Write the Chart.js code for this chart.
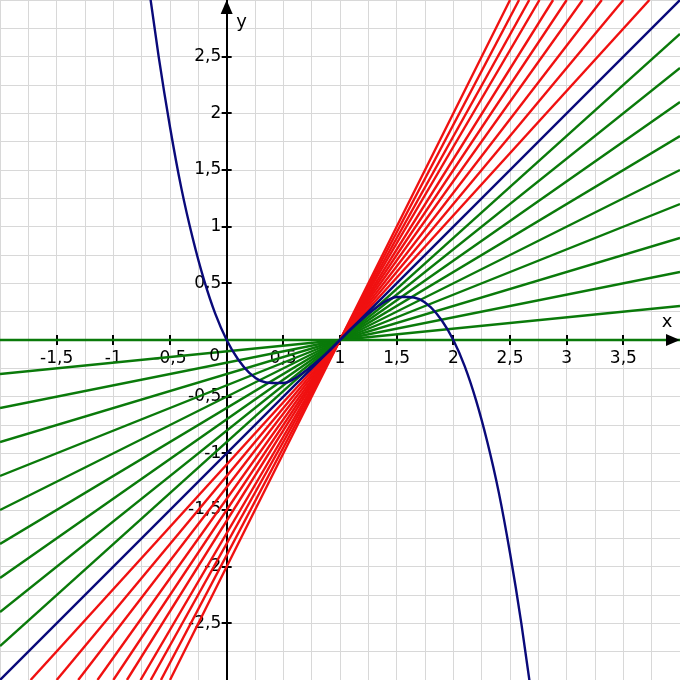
<!DOCTYPE html>
<html>
<head>
<meta charset="utf-8">
<title>Tangente und Sekanten</title>
<script src="https://cdn.jsdelivr.net/npm/chart.js@4/dist/chart.umd.min.js"></script>
<style>
  html, body { margin: 0; padding: 0; background: #ffffff; }
  #wrap { width: 680px; height: 680px; }
</style>
</head>
<body>
<div id="wrap"><canvas id="graphChart"></canvas></div>
<script>
// Axis ranges and tick labels
const xRange = [-2, 4];
const yRange = [-3, 3];
const xTickLabels = [-1.5, -1, -0.5, 0.5, 1, 1.5, 2, 2.5, 3, 3.5];
const yTickLabels = [-2.5, -2, -1.5, -1, -0.5, 0.5, 1, 1.5, 2, 2.5];

// Blue curve
const curveX = [-0.7, -0.6, -0.5, -0.4, -0.3, -0.2, -0.1, 0, 0.1, 0.2, 0.3, 0.4, 0.5, 0.6, 0.7, 0.8, 0.9, 1,
  1.1, 1.2, 1.3, 1.4, 1.5, 1.6, 1.7, 1.8, 1.9, 2, 2.1, 2.2, 2.3, 2.4, 2.5, 2.6, 2.7];
const curveY = [3.21, 2.5, 1.88, 1.34, 0.9, 0.53, 0.23, 0, -0.17, -0.29, -0.36, -0.38, -0.38, -0.34, -0.27, -0.19, -0.1, 0,
  0.1, 0.19, 0.27, 0.34, 0.38, 0.38, 0.36, 0.29, 0.17, 0, -0.23, -0.53, -0.9, -1.34, -1.88, -2.5, -3.21];

// Blue tangent line (end points)
const tangentX = [-2, 4];
const tangentY = [-3, 3];

// Green lines: y at left edge (x = -2) and right edge (x = 4)
const greenLeftY = [0, -0.3, -0.6, -0.9, -1.2, -1.5, -1.8, -2.1, -2.4, -2.7];
const greenRightY = [0, 0.3, 0.6, 0.9, 1.2, 1.5, 1.8, 2.1, 2.4, 2.7];

// Red lines: x at bottom edge (y = -3) and top edge (y = 3)
const redBottomX = [-1.73, -1.5, -1.31, -1.14, -1, -0.88, -0.76, -0.67, -0.58, -0.5];
const redTopX = [3.73, 3.5, 3.31, 3.14, 3, 2.88, 2.76, 2.67, 2.58, 2.5];

const fontFamily = '"DejaVu Sans", sans-serif';

const fmt = (v) => String(v).replace('.', ',');

// Build datasets
const datasets = [];

datasets.push({
  data: curveX.map((x, i) => ({ x: x, y: curveY[i] })),
  borderColor: '#0a0a7a',
  borderWidth: 2.4,
  cubicInterpolationMode: 'monotone',
  order: 0
});

datasets.push({
  data: tangentX.map((x, i) => ({ x: x, y: tangentY[i] })),
  borderColor: '#0a0a7a',
  borderWidth: 2.4,
  order: 1
});

greenLeftY.forEach((y, i) => {
  datasets.push({
    data: [{ x: xRange[0], y: y }, { x: xRange[1], y: greenRightY[i] }],
    borderColor: '#0a7a0a',
    borderWidth: 2.4,
    order: 2
  });
});

redBottomX.forEach((x, i) => {
  datasets.push({
    data: [{ x: x, y: yRange[0] }, { x: redTopX[i], y: yRange[1] }],
    borderColor: '#f01010',
    borderWidth: 2.4,
    order: 3
  });
});

// Centered axes should not push the plot area inwards
const noScalePadding = (scale) => {
  scale.paddingLeft = 0;
  scale.paddingRight = 0;
  scale.paddingTop = 0;
  scale.paddingBottom = 0;
};

// Tick crosses on the axes (under the lines)
const axisTicks = {
  id: 'axisTicks',
  beforeDatasetsDraw(chart) {
    const { ctx, scales: { x, y } } = chart;
    const x0 = x.getPixelForValue(0);
    const y0 = y.getPixelForValue(0);
    ctx.save();
    ctx.strokeStyle = '#000000';
    ctx.lineWidth = 2;
    ctx.beginPath();
    xTickLabels.forEach(v => {
      const px = Math.round(x.getPixelForValue(v));
      ctx.moveTo(px, y0 - 5);
      ctx.lineTo(px, y0 + 5);
    });
    yTickLabels.forEach(v => {
      const py = Math.round(y.getPixelForValue(v));
      ctx.moveTo(x0 - 5, py);
      ctx.lineTo(x0 + 5, py);
    });
    ctx.stroke();
    ctx.restore();
  }
};

// Arrow heads, axis names and origin label
const axisDecor = {
  id: 'axisDecor',
  afterDraw(chart) {
    const { ctx, chartArea, scales: { x, y } } = chart;
    const x0 = x.getPixelForValue(0);
    const y0 = y.getPixelForValue(0);
    ctx.save();
    ctx.fillStyle = '#000000';

    ctx.beginPath();
    ctx.moveTo(chartArea.right, y0);
    ctx.lineTo(chartArea.right - 14, y0 - 6);
    ctx.lineTo(chartArea.right - 14, y0 + 6);
    ctx.closePath();
    ctx.fill();

    ctx.beginPath();
    ctx.moveTo(x0, chartArea.top);
    ctx.lineTo(x0 - 6, chartArea.top + 14);
    ctx.lineTo(x0 + 6, chartArea.top + 14);
    ctx.closePath();
    ctx.fill();

    ctx.font = '18px ' + fontFamily;
    ctx.textAlign = 'center';
    ctx.textBaseline = 'middle';
    ctx.fillText('x', chartArea.right - 13, y0 - 18);
    ctx.fillText('y', x0 + 15, chartArea.top + 22);

    ctx.font = '17px ' + fontFamily;
    ctx.fillText('0', x0 - 12, y0 + 17);
    ctx.restore();
  }
};

const ctx = document.getElementById('graphChart').getContext('2d');

new Chart(ctx, {
  type: 'scatter',
  data: { datasets: datasets },
  options: {
    responsive: true,
    maintainAspectRatio: false,
    animation: false,
    events: [],
    showLine: true,
    layout: { padding: 0, autoPadding: false },
    elements: {
      point: { radius: 0 },
      line: { fill: false, borderCapStyle: 'butt' }
    },
    plugins: {
      legend: { display: false },
      tooltip: { enabled: false }
    },
    scales: {
      x: {
        type: 'linear',
        min: xRange[0],
        max: xRange[1],
        position: { y: 0 },
        afterFit: noScalePadding,
        grid: { color: '#d8d8d8', lineWidth: 1, drawTicks: false },
        border: { display: true, color: '#000000', width: 2 },
        ticks: {
          stepSize: 0.25,
          autoSkip: false,
          maxRotation: 0,
          padding: 8,
          color: '#000000',
          font: { family: fontFamily, size: 17 },
          callback: (value) => xTickLabels.includes(value) ? fmt(value) : ''
        }
      },
      y: {
        type: 'linear',
        min: yRange[0],
        max: yRange[1],
        position: { x: 0 },
        afterFit: noScalePadding,
        grid: { color: '#d8d8d8', lineWidth: 1, drawTicks: false },
        border: { display: true, color: '#000000', width: 2 },
        ticks: {
          stepSize: 0.25,
          autoSkip: false,
          color: '#000000',
          font: { family: fontFamily, size: 17 },
          // trailing space keeps the label off the axis line
          callback: (value) => yTickLabels.includes(value) ? fmt(value) + ' ' : ''
        }
      }
    }
  },
  plugins: [axisTicks, axisDecor]
});
</script>
</body>
</html>
